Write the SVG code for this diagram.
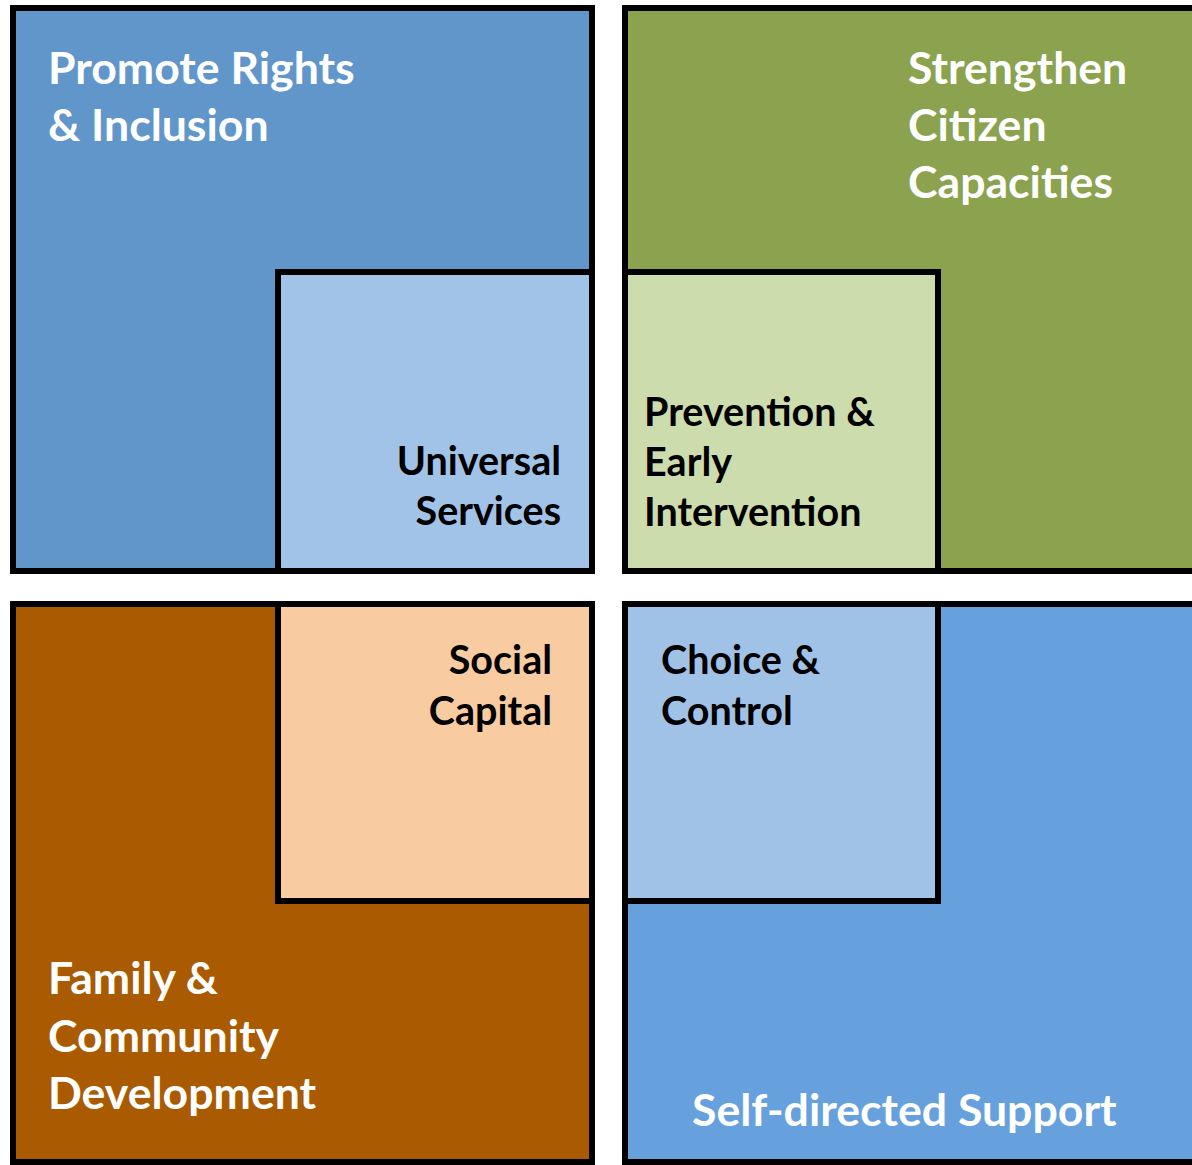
<svg xmlns="http://www.w3.org/2000/svg" width="1192" height="1165" viewBox="0 0 1192 1165">
<style>
rect{stroke:#000;stroke-width:6}
text{font-family:Lato,"Open Sans","Liberation Sans",sans-serif;font-weight:bold}
.w{fill:#fff;font-size:44.6px}
.b{fill:#000;font-size:39.5px}
.r{text-anchor:end}
</style>
<rect width="1192" height="1165" fill="#fff" style="stroke:none"/>
<g id="promote-rights">
<rect x="13" y="8" width="579" height="563" fill="#6096C9"/>
<text class="w" x="48" y="84">Promote Rights</text>
<text class="w" x="48" y="141">&amp; Inclusion</text>
</g>
<g id="strengthen-citizen">
<rect x="625" y="8" width="600" height="563" fill="#8BA24F"/>
<text class="w" x="908" y="84">Strengthen</text>
<text class="w" x="908" y="141">Citizen</text>
<text class="w" x="908" y="198">Capacities</text>
</g>
<g id="family-community">
<rect x="13" y="604" width="579" height="558" fill="#AA5A00"/>
<text class="w" x="48" y="994">Family &amp;</text>
<text class="w" x="48" y="1052">Community</text>
<text class="w" x="48" y="1109">Development</text>
</g>
<g id="self-directed">
<rect x="625" y="604" width="600" height="558" fill="#66A1DD"/>
<text class="w" x="692" y="1126">Self-directed Support</text>
</g>
<g id="universal-services">
<rect x="278" y="272" width="314" height="299" fill="#A1C3E8"/>
<text class="b r" x="561" y="475">Universal</text>
<text class="b r" x="561" y="525">Services</text>
</g>
<g id="prevention">
<rect x="625" y="272" width="313" height="299" fill="#CDDCAD"/>
<text class="b" x="644" y="426">Prevention &amp;</text>
<text class="b" x="644" y="476">Early</text>
<text class="b" x="644" y="526">Intervention</text>
</g>
<g id="social-capital">
<rect x="278" y="604" width="314" height="297" fill="#F9CBA0"/>
<text class="b r" x="552" y="674">Social</text>
<text class="b r" x="552" y="725">Capital</text>
</g>
<g id="choice-control">
<rect x="625" y="604" width="313" height="297" fill="#A1C2E7"/>
<text class="b" x="661" y="674">Choice &amp;</text>
<text class="b" x="661" y="725">Control</text>
</g>
<g id="connectors"/>
</svg>
